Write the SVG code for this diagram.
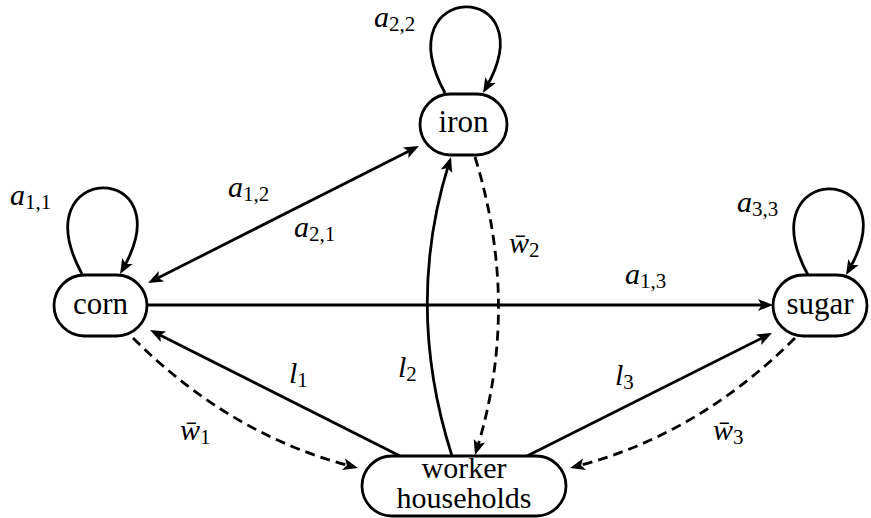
<svg xmlns="http://www.w3.org/2000/svg" width="871" height="518" viewBox="0 0 871 518">
<defs>
<marker id="arr" markerUnits="userSpaceOnUse" markerWidth="24" markerHeight="16" viewBox="-10 -8 20 16" refX="0" refY="0" orient="auto-start-reverse">
<path d="M6,0 L-9,-6 L-5.5,0 L-9,6 Z" fill="#000"/>
</marker>
</defs>
<g id="connectors" fill="none" stroke="#000" stroke-width="2.8">
<path d="M153.4,280.3 L413.6,148.7" marker-start="url(#arr)" marker-end="url(#arr)"/>
<path d="M147,305 L767,305" marker-end="url(#arr)"/>
<path d="M400,456 L155.4,332.7" marker-end="url(#arr)"/>
<path d="M452,456 Q404,306 449.2,162.7" marker-end="url(#arr)"/>
<path d="M527,456 L766.6,335.7" marker-end="url(#arr)"/>
<path d="M82,274 C20,160 185,160 123,268.8" marker-end="url(#arr)"/>
<path d="M445,93 C383,-21 548,-21 486,87.8" marker-end="url(#arr)"/>
<path d="M808,275 C746,161 911,161 849,269.8" marker-end="url(#arr)"/>
<g stroke-dasharray="10 6">
<path d="M475,157 Q521,306 476.8,449.3" marker-end="url(#arr)"/>
<path d="M133,338 Q230,435 352.2,466.5" marker-end="url(#arr)"/>
<path d="M795,338 Q698,435 575.8,466.5" marker-end="url(#arr)"/>
</g>
</g>
<g font-family="Liberation Serif" font-size="31" text-anchor="middle" fill="#000">
<g id="corn"><rect x="54" y="275" width="93" height="61" rx="30.5" fill="#fff" stroke="#000" stroke-width="2.8"/><text x="100.5" y="314" font-family="Liberation Serif">corn</text></g>
<g id="iron"><rect x="420" y="94" width="87" height="61" rx="30.5" fill="#fff" stroke="#000" stroke-width="2.8"/><text x="463.5" y="132" font-family="Liberation Serif">iron</text></g>
<g id="sugar"><rect x="773" y="275" width="94" height="61" rx="30.5" fill="#fff" stroke="#000" stroke-width="2.8"/><text x="820" y="314" font-family="Liberation Serif">sugar</text></g>
<g id="workers"><rect x="362" y="456" width="204" height="60" rx="30" fill="#fff" stroke="#000" stroke-width="2.8"/><text x="464" y="478" font-family="Liberation Serif" font-size="30">worker</text><text x="464" y="508" font-family="Liberation Serif" font-size="30">households</text></g>
</g>
<g id="labels" font-family="Liberation Serif" font-size="30" font-style="italic" fill="#000">
<text font-family="Liberation Serif" x="10" y="205">a<tspan font-style="normal" font-size="21" dy="4">1,1</tspan></text>
<text font-family="Liberation Serif" x="374" y="27">a<tspan font-style="normal" font-size="21" dy="4">2,2</tspan></text>
<text font-family="Liberation Serif" x="737" y="212">a<tspan font-style="normal" font-size="21" dy="4">3,3</tspan></text>
<text font-family="Liberation Serif" x="228" y="197">a<tspan font-style="normal" font-size="21" dy="4">1,2</tspan></text>
<text font-family="Liberation Serif" x="294" y="237">a<tspan font-style="normal" font-size="21" dy="4">2,1</tspan></text>
<text font-family="Liberation Serif" x="625" y="284">a<tspan font-style="normal" font-size="21" dy="4">1,3</tspan></text>
<text font-family="Liberation Serif" x="509" y="253">w̄<tspan font-style="normal" font-size="21" dy="4">2</tspan></text>
<text font-family="Liberation Serif" x="180" y="440">w̄<tspan font-style="normal" font-size="21" dy="4">1</tspan></text>
<text font-family="Liberation Serif" x="713" y="440">w̄<tspan font-style="normal" font-size="21" dy="4">3</tspan></text>
<text font-family="Liberation Serif" x="289" y="383">l<tspan font-style="normal" font-size="21" dy="4">1</tspan></text>
<text font-family="Liberation Serif" x="398" y="377">l<tspan font-style="normal" font-size="21" dy="4">2</tspan></text>
<text font-family="Liberation Serif" x="615" y="385">l<tspan font-style="normal" font-size="21" dy="4">3</tspan></text>
</g>
</svg>
